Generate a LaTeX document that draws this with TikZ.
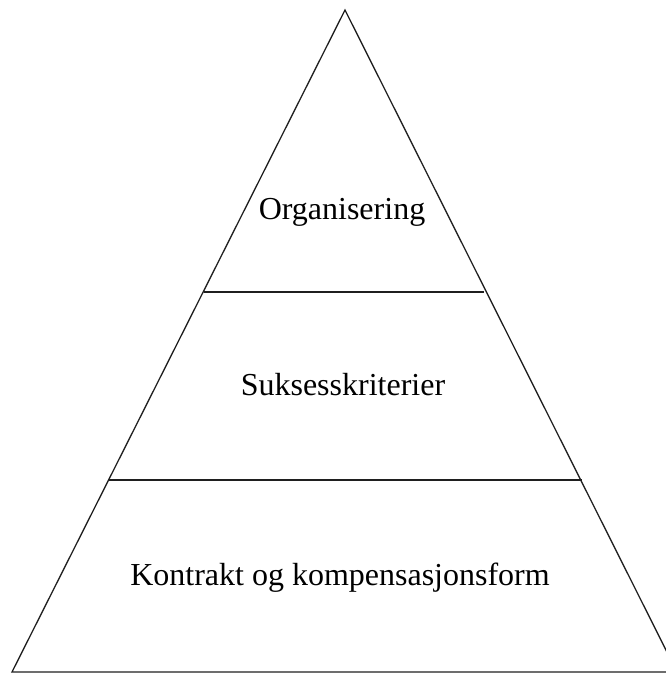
\documentclass[tikz,border=0pt]{standalone}
\usepackage{fontspec}
\setmainfont{Liberation Serif}
\begin{document}
\begin{tikzpicture}[x=1pt,y=-1pt,
  edge/.style={line width=1.3pt,draw=black!88},
  label/.style={font=\fontsize{32}{38}\selectfont,text=black}]
\useasboundingbox (0,0) rectangle (666,673);
\clip (0,0) rectangle (666,673);
% outline of the pyramid
\coordinate (top) at (345,10);
\coordinate (bl) at (12,672);
\coordinate (br) at (677,672);
\draw[edge,line join=miter] (bl) -- (top) -- (br) -- cycle;
% tier boundaries
\coordinate (a1) at (204,292);
\coordinate (a2) at (484,292);
\coordinate (b1) at (108,480);
\coordinate (b2) at (582,480);
\draw[edge] (a1) -- (a2);
\draw[edge] (b1) -- (b2);
% tier labels
\node[label] (t1) at (342,212) {Organisering};
\node[label] (t2) at (343,385) {Suksesskriterier};
\node[label] (t3) at (340,578) {Kontrakt og kompensasjonsform};
\end{tikzpicture}
\end{document}
